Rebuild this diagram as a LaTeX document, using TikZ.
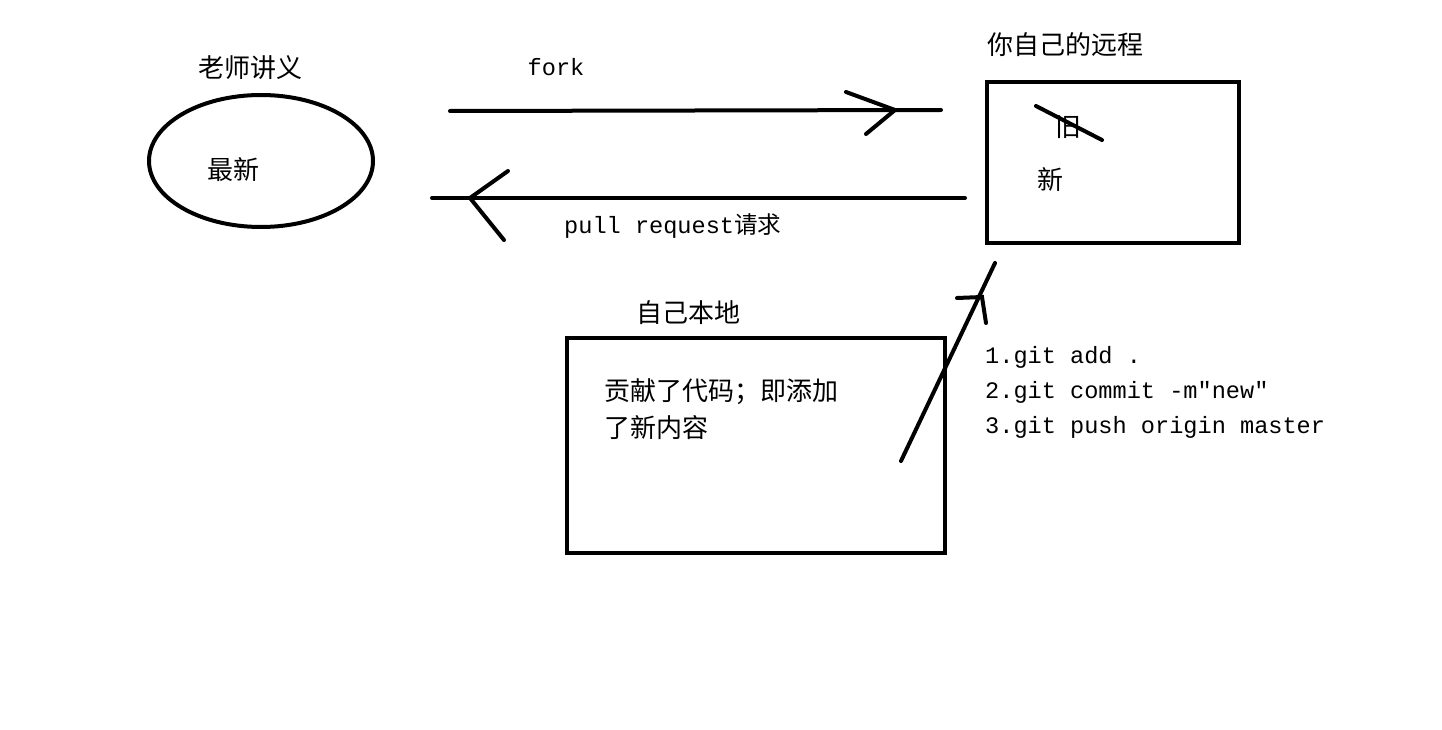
\documentclass[tikz,border=0pt]{standalone}
\usepackage{fontspec}
\setmonofont{Liberation Mono}
\newfontfamily\cjk{Noto Sans CJK SC}
\usetikzlibrary{shapes.geometric}
\tikzset{
	pen/.style={line width=4pt, line cap=round},
	zh/.style={font=\cjk\fontsize{26}{30}\selectfont, inner sep=0pt},
	en/.style={font=\ttfamily\fontsize{23.6}{28}\selectfont, inner sep=0pt},
}

\begin{document}
\begin{tikzpicture}[x=1pt,y=-1pt]
	\useasboundingbox (0,0) rectangle (1442,730);
	% teacher's notes
	\node[draw,ellipse,pen,minimum width=224,minimum height=132] at (261,161) (tea) {};
	\node[zh] at (250,68) (teaT) {老师讲义};
	\node[zh] at (233,170) (teaN) {最新};
	% own remote
	\node[draw,pen,minimum width=252,minimum height=161] at (1113,162.5) (rem) {};
	\node[zh] at (1065,45) (remT) {你自己的远程};
	\node[zh] at (1068,127) (old) {旧};
	\node[zh] at (1050,180) (new) {新};
	\draw[pen] (1036,106) -- (1102,140);
	% own local
	\node[draw,pen,minimum width=378,minimum height=215] at (756,445.5) (loc) {};
	\node[zh] at (688,313) (locT) {自己本地};
	\node[zh,anchor=west] at (604,392) (locA) {贡献了代码；即添加};
	\node[zh,anchor=west] at (604,428) (locB) {了新内容};
	% fork
	\coordinate (forkS) at (450,111);
	\coordinate (forkE) at (941,110);
	\coordinate (forkH) at (895,110);
	\draw[pen] (forkS) -- (forkE);
	\draw[pen] (846,92) -- (forkH) -- (866,134);
	\node[en] at (556,67) (forkT) {fork};
	% pull request
	\coordinate (prS) at (965,198);
	\coordinate (prE) at (432,198);
	\coordinate (prH) at (470,198);
	\draw[pen] (prS) -- (prE);
	\draw[pen] (508,171) -- (prH) -- (504,240);
	\node[en,anchor=west] at (564,226) (prT) {pull request{\cjk 请求}};
	% push
	\coordinate (pushS) at (901,461);
	\coordinate (pushE) at (995,263);
	\coordinate (pushH) at (982,297);
	\draw[pen] (pushS) -- (pushE);
	\draw[pen] (957,298) -- (pushH) -- (986,323);
	\node[en,anchor=west] at (985,357) (cmd1) {1.git add .};
	\node[en,anchor=west] at (985,392) (cmd2) {2.git commit -m"new"};
	\node[en,anchor=west] at (985,427) (cmd3) {3.git push origin master};
\end{tikzpicture}
\end{document}
